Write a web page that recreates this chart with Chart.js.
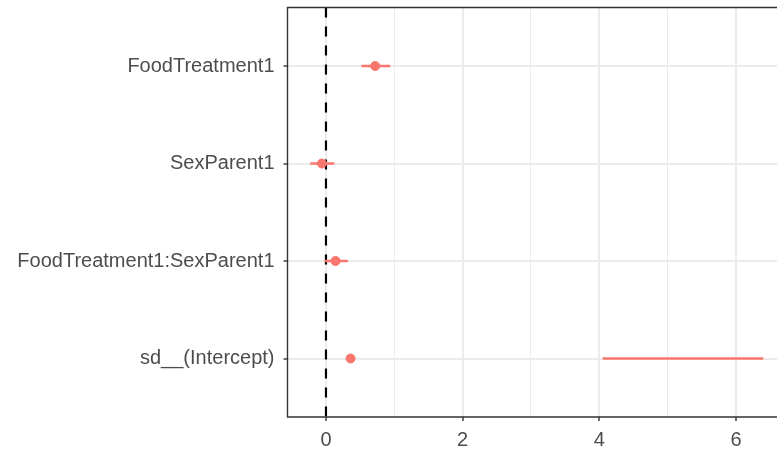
<!DOCTYPE html>
<html>
<head>
<meta charset="utf-8">
<script src="https://cdn.jsdelivr.net/npm/chart.js@4"></script>
<style>
  html, body { margin: 0; padding: 0; background: #fff; overflow: hidden; }
  canvas { display: block; }
</style>
</head>
<body>
<canvas id="coefChart" width="777" height="451"></canvas>
<script>
// coefficient names, top to bottom
const terms = ['FoodTreatment1', 'SexParent1', 'FoodTreatment1:SexParent1', 'sd__(Intercept)'];
// point estimates
const estimates = [0.72, -0.06, 0.14, 0.36];
// interval ends
const lower = [0.52, -0.23, -0.02, 4.05];
const upper = [0.94, 0.12, 0.32, 6.40];
// x tick labels shown
const xTicks = [0, 2, 4, 6];

const red = '#F8766D';
const rows = terms.map((t, i) => i + 1);

// one small line dataset per interval
const intervalSets = rows.map((r, i) => ({
    type: 'line',
    data: [{x: lower[i], y: r}, {x: upper[i], y: r}],
    borderColor: red,
    borderWidth: 2.6,
    pointRadius: 0,
    order: 1
}));

const zeroLine = {
    type: 'line',
    data: [{x: 0, y: 0.4}, {x: 0, y: 4.6}],
    borderColor: '#000',
    borderWidth: 2.2,
    borderDash: [10, 9],
    pointRadius: 0,
    order: 2
};

const pointSet = {
    type: 'scatter',
    data: rows.map((r, i) => ({x: estimates[i], y: r})),
    backgroundColor: red,
    borderColor: red,
    pointRadius: 4.5,
    order: 0
};

// panel border (top, left, bottom)
const panelBorder = {
    id: 'panelBorder',
    afterDraw(chart) {
        const a = chart.chartArea, c = chart.ctx;
        c.save();
        c.strokeStyle = '#333333';
        c.lineWidth = 1.4;
        c.beginPath();
        c.moveTo(a.right + 2, a.top);
        c.lineTo(a.left, a.top);
        c.lineTo(a.left, a.bottom);
        c.lineTo(a.right + 2, a.bottom);
        c.stroke();
        c.restore();
    }
};

const chart1 = document.getElementById('coefChart');

new Chart(chart1, {
    type: 'scatter',
    data: { datasets: [pointSet, ...intervalSets, zeroLine] },
    options: {
        responsive: false,
        animation: false,
        layout: { autoPadding: false, padding: { top: 7.5, left: 0, right: 0, bottom: 0 } },
        plugins: { legend: { display: false }, tooltip: { enabled: false } },
        scales: {
            x: {
                type: 'linear',
                min: -0.563,
                max: 6.6,
                afterFit: s => { s.height = 34; s.paddingLeft = 0; s.paddingRight = 0; },
                ticks: {
                    stepSize: 1,
                    includeBounds: false,
                    padding: 7,
                    color: '#4D4D4D',
                    font: { family: 'Liberation Sans, Arial, sans-serif', size: 20 },
                    callback: v => xTicks.includes(v) ? String(v) : ''
                },
                grid: {
                    color: '#EBEBEB',
                    lineWidth: ctx => (ctx.tick && xTicks.includes(ctx.tick.value)) ? 2 : 1,
                    tickLength: 4,
                    tickColor: ctx => (ctx.tick && xTicks.includes(ctx.tick.value)) ? '#333333' : 'rgba(0,0,0,0)',
                    tickWidth: 1.4
                },
                border: { display: false }
            },
            y: {
                type: 'linear',
                min: 0.4,
                max: 4.6,
                reverse: true,
                afterFit: s => { s.width = 287.5; s.paddingTop = 0; s.paddingBottom = 0; },
                afterBuildTicks: s => { s.ticks = rows.map(v => ({value: v})); },
                ticks: {
                    padding: 9,
                    color: '#4D4D4D',
                    font: { family: 'Liberation Sans, Arial, sans-serif', size: 20 },
                    callback: v => terms[v - 1]
                },
                grid: {
                    color: '#EBEBEB',
                    lineWidth: 2,
                    tickLength: 4,
                    tickColor: '#333333',
                    tickWidth: 1.4
                },
                border: { display: false }
            }
        }
    },
    plugins: [panelBorder]
});
</script>
</body>
</html>
